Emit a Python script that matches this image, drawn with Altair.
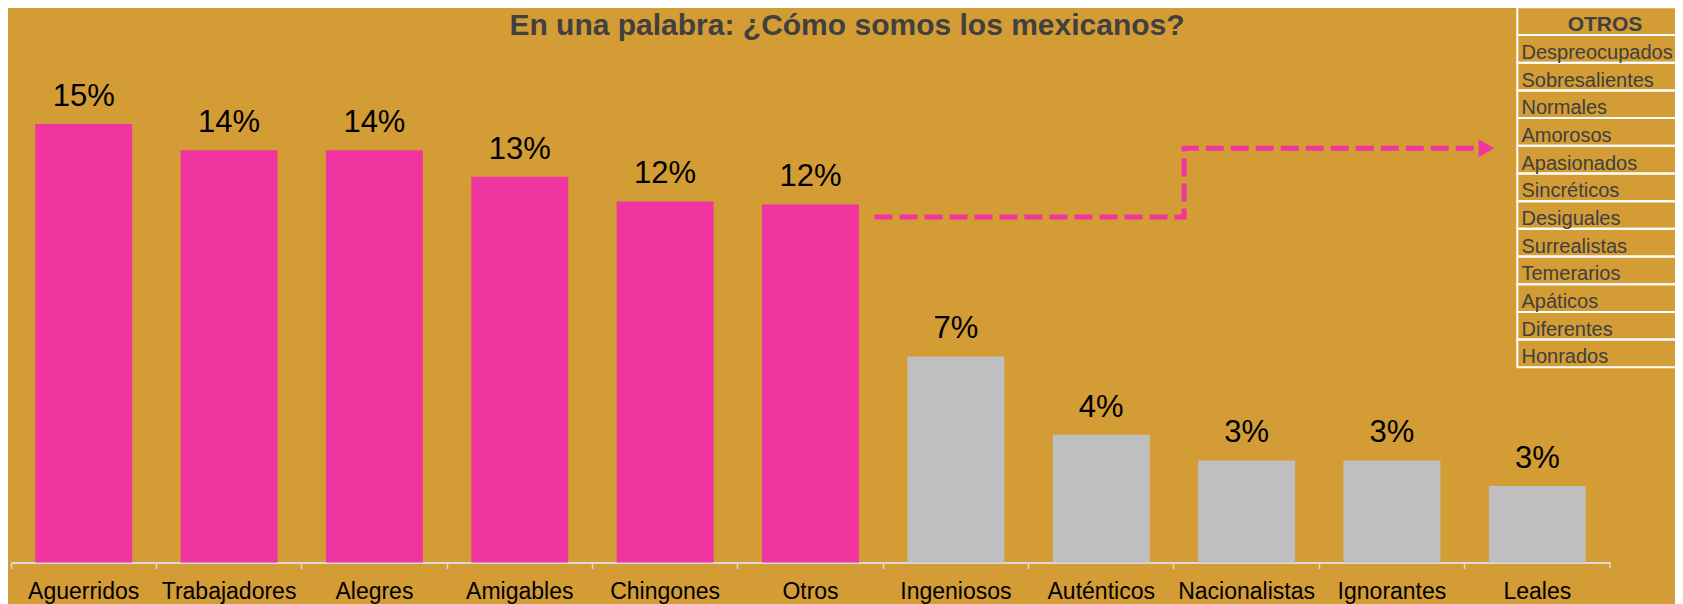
import altair as alt
import pandas as pd

# ---------------- data ----------------
categories = ["Aguerridos", "Trabajadores", "Alegres", "Amigables", "Chingones", "Otros",
              "Ingeniosos", "Auténticos", "Nacionalistas", "Ignorantes", "Leales"]
values = [15.0, 14.1, 14.1, 13.2, 12.35, 12.25, 7.05, 4.37, 3.49, 3.49, 2.62]
value_labels = ["15%", "14%", "14%", "13%", "12%", "12%", "7%", "4%", "3%", "3%", "3%"]
groups = ["destacado"] * 6 + ["resto"] * 5

table_rows = ["OTROS", "Despreocupados", "Sobresalientes", "Normales", "Amorosos", "Apasionados",
              "Sincréticos", "Desiguales", "Surrealistas", "Temerarios", "Apáticos",
              "Diferentes", "Honrados"]
title_text = ["En una palabra: ¿Cómo somos los mexicanos?"]

# dashed arrow path, in category-slot units (x) and percent (y)
arrow_x = [5.94, 8.07, 8.07, 10.09]
arrow_y = [11.82, 11.82, 14.17, 14.17]
arrow_head_x = [10.15]
arrow_head_y = [14.17]

# ---------------- style ----------------
BG = "#D39C35"
PINK = "#F035A0"
GRAY = "#BFBFBF"
AXC = "#D9D9D9"
DARK = "#404040"
FONT = "Liberation Sans"

W = 1599
H = 552.5
YMAX = 18.9

df = pd.DataFrame({"cat": categories, "val": values, "lab": value_labels, "grp": groups})

xenc = alt.X("cat:N", sort=categories,
             scale=alt.Scale(paddingInner=0, paddingOuter=0),
             axis=alt.Axis(title=None, labelAngle=0, labelFontSize=23, labelFont=FONT,
                           labelColor="black", labelPadding=12, domainColor=AXC,
                           domainWidth=2, tickColor=AXC, tickWidth=1.5, tickSize=6,
                           bandPosition=0, grid=False, labelOverlap=False))
yenc = alt.Y("val:Q", scale=alt.Scale(domain=[0, YMAX], nice=False, zero=True), axis=None)

bars = alt.Chart(df).mark_bar(width={"band": 0.667}).encode(
    x=xenc, y=yenc,
    color=alt.Color("grp:N", scale=alt.Scale(domain=["destacado", "resto"], range=[PINK, GRAY]),
                    legend=None),
)
labels = alt.Chart(df).mark_text(baseline="alphabetic", dy=-18, fontSize=31, font=FONT,
                                 color="black").encode(
    x=alt.X("cat:N", sort=categories), y=alt.Y("val:Q"), text="lab:N")

title = alt.Chart(pd.DataFrame({"t": title_text})).mark_text(
    font=FONT, fontSize=30, fontWeight="bold", color=DARK, align="center",
    baseline="alphabetic").encode(x=alt.value(836), y=alt.value(25), text="t:N")

end_tick = alt.Chart(pd.DataFrame({"k": [0]})).mark_rule(color=AXC, strokeWidth=1.5).encode(
    x=alt.value(W), y=alt.value(H), y2=alt.value(H + 6))

main = alt.layer(bars, labels, title, end_tick)

# arrow
adf = pd.DataFrame({"px": arrow_x, "py": arrow_y, "o": list(range(len(arrow_x)))})
hdf = pd.DataFrame({"px": arrow_head_x, "py": arrow_head_y})
xa = alt.X("px:Q", scale=alt.Scale(domain=[0, 11], nice=False, zero=False), axis=None)
ya = alt.Y("py:Q", scale=alt.Scale(domain=[0, YMAX], nice=False, zero=False), axis=None)
arrow_line = alt.Chart(adf).mark_line(color=PINK, strokeWidth=5, strokeDash=[18, 7]).encode(
    x=xa, y=ya, order="o:O")
arrow_head = alt.Chart(hdf).mark_point(shape="triangle-right", filled=True, size=324,
                                       color=PINK, opacity=1).encode(x=xa, y=ya)
arrow = alt.layer(arrow_line, arrow_head)

# table of "otros"
tdf = pd.DataFrame({"row": table_rows})
yt = alt.Y("row:N", sort=table_rows,
           scale=alt.Scale(domain=table_rows, range=[-2.7, 357.3], paddingInner=0, paddingOuter=0),
           axis=None)
cells = alt.Chart(tdf).mark_rect(fill="transparent", stroke="white", strokeWidth=2).encode(
    y=yt, x=alt.value(1506.3), x2=alt.value(1800))
body = alt.Chart(tdf.iloc[1:]).mark_text(align="left", baseline="alphabetic", dy=10.0,
                                         fontSize=20, font=FONT, color=DARK).encode(
    y=yt, x=alt.value(1510.5), text="row:N")
header = alt.Chart(tdf.iloc[:1]).mark_text(align="center", baseline="alphabetic", dy=9.9,
                                           fontSize=21, fontWeight="bold", font=FONT,
                                           color=DARK).encode(
    y=yt, x=alt.value(1594), text="row:N")
table = alt.layer(cells, body, header)

chart = alt.layer(main, arrow, table).resolve_scale(
    x="independent", y="independent", color="independent"
).properties(
    width=W, height=H, background=BG,
    padding={"left": 3, "top": 2, "right": 65, "bottom": 41.5},
    autosize=alt.AutoSizeParams(type="none"),
).configure_view(stroke=None)

chart.save("out.html", embed_options={"renderer": "svg", "actions": False})
